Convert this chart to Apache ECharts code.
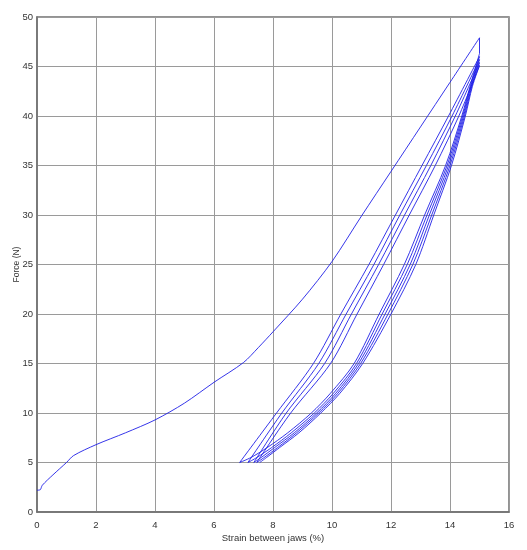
<!DOCTYPE html>
<html>
<head>
<meta charset="utf-8">
<script src="https://cdn.jsdelivr.net/npm/echarts@6/dist/echarts.min.js"></script>
<style>
html,body{margin:0;padding:0;background:#fff;}
#chart{width:527px;height:550px;}
</style>
</head>
<body>
<div id="chart"></div>
<script>
// First loading curve
const load1Strain = [0, 0.11, 0.18, 0.54, 1.0, 1.24, 2.0, 3.0, 4.0, 5.0, 6.0, 7.0, 7.5, 8.0, 9.0, 10.0, 11.0, 12.0, 13.0, 14.0, 15.0];
const load1Force  = [2.2, 2.25, 2.7, 3.75, 5.0, 5.7, 6.8, 8.0, 9.3, 11.0, 13.1, 15.1, 16.6, 18.2, 21.5, 25.3, 29.9, 34.4, 38.9, 43.4, 47.9];

// Unloading curves: strain read at these force levels (first level = peak of that cycle)
const unloadPeaks = [46.3, 46.0, 45.7, 45.4, 45.1];
const unloadForce = [43, 40, 35, 30, 25, 20, 15, 12, 10, 8, 6.5, 5.5, 5];
const unload1Strain = [15.0, 14.68, 14.40, 13.85, 13.14, 12.45, 11.60, 10.75, 9.95, 9.30, 8.50, 7.80, 7.25, 6.87];
const unload2Strain = [15.0, 14.70, 14.43, 13.90, 13.22, 12.55, 11.70, 10.83, 10.05, 9.40, 8.62, 7.95, 7.45, 7.15];
const unload3Strain = [15.0, 14.72, 14.46, 13.95, 13.30, 12.65, 11.80, 10.90, 10.13, 9.48, 8.72, 8.05, 7.60, 7.35];
const unload4Strain = [15.0, 14.74, 14.49, 14.00, 13.38, 12.74, 11.90, 10.97, 10.20, 9.55, 8.80, 8.15, 7.70, 7.45];
const unload5Strain = [15.0, 14.76, 14.52, 14.05, 13.45, 12.84, 12.00, 11.04, 10.27, 9.62, 8.88, 8.22, 7.78, 7.55];

// Reloading curves: strain read at these force levels (last level = next peak)
const reloadForce = [5, 10, 15, 20, 25, 30, 35, 40];
const reload1Strain = [6.87, 8.12, 9.37, 10.30, 11.25, 12.15, 13.05, 13.95, 15.0];
const reload2Strain = [7.15, 8.30, 9.55, 10.48, 11.42, 12.30, 13.20, 14.07, 15.0];
const reload3Strain = [7.35, 8.45, 9.75, 10.66, 11.58, 12.46, 13.35, 14.18, 15.0];
const reload4Strain = [7.45, 8.60, 9.95, 10.85, 11.75, 12.62, 13.50, 14.30, 15.0];

const xTicks = [0, 2, 4, 6, 8, 10, 12, 14, 16];
const yTicks = [0, 5, 10, 15, 20, 25, 30, 35, 40, 45, 50];

const unloads = [unload1Strain, unload2Strain, unload3Strain, unload4Strain, unload5Strain];
const reloads = [reload1Strain, reload2Strain, reload3Strain, reload4Strain];

const lineStyle = {color: '#1f1fe6', width: 0.9};
const series = [];
function addSeries(data, smooth) {
  series.push({type: 'line', data: data, showSymbol: false, smooth: smooth,
    lineStyle: lineStyle, animation: false});
}
addSeries(load1Strain.map((x, i) => [x, load1Force[i]]), 0.3);
// drop at strain reversal
addSeries([[load1Strain[load1Strain.length - 1], load1Force[load1Force.length - 1]], [unload1Strain[0], unloadPeaks[0]]], false);
unloads.forEach((us, c) => {
  const forces = [unloadPeaks[c]].concat(unloadForce);
  addSeries(us.map((x, i) => [x, forces[i]]), 0.3);
  if (c < reloads.length) {
    const rf = reloadForce.concat([unloadPeaks[c + 1]]);
    addSeries(reloads[c].map((x, i) => [x, rf[i]]), 0.3);
  }
});

const chart = echarts.init(document.getElementById('chart'), null, {renderer: 'canvas'});
const font = '"Liberation Sans", Arial, sans-serif';
chart.setOption({
  animation: false,
  backgroundColor: '#fff',
  grid: {left: 37, right: 18, top: 17, bottom: 38, containLabel: false, outerBoundsMode: 'none',
    show: true, borderColor: '#707070', borderWidth: 1.5, backgroundColor: 'transparent'},
  xAxis: {
    type: 'value', min: xTicks[0], max: xTicks[xTicks.length - 1], interval: 2,
    name: 'Strain between jaws (%)', nameLocation: 'middle', nameGap: 21, nameMoveOverlap: false,
    nameTextStyle: {fontFamily: font, fontSize: 9.5, color: '#333'},
    axisLine: {show: true, lineStyle: {color: '#707070', width: 1.5}},
    axisTick: {show: false},
    axisLabel: {fontFamily: font, fontSize: 9.5, color: '#333', margin: 8},
    splitLine: {show: true, lineStyle: {color: '#9a9a9a', width: 1}}
  },
  yAxis: {
    type: 'value', min: yTicks[0], max: yTicks[yTicks.length - 1], interval: 5,
    name: 'Force (N)', nameLocation: 'middle', nameGap: 16, nameRotate: 90, nameMoveOverlap: false,
    nameTextStyle: {fontFamily: font, fontSize: 8.5, color: '#333'},
    axisLine: {show: true, lineStyle: {color: '#707070', width: 1.5}},
    axisTick: {show: false},
    axisLabel: {fontFamily: font, fontSize: 9.5, color: '#333', margin: 4},
    splitLine: {show: true, lineStyle: {color: '#9a9a9a', width: 1}}
  },
  series: series
});
</script>
</body>
</html>
